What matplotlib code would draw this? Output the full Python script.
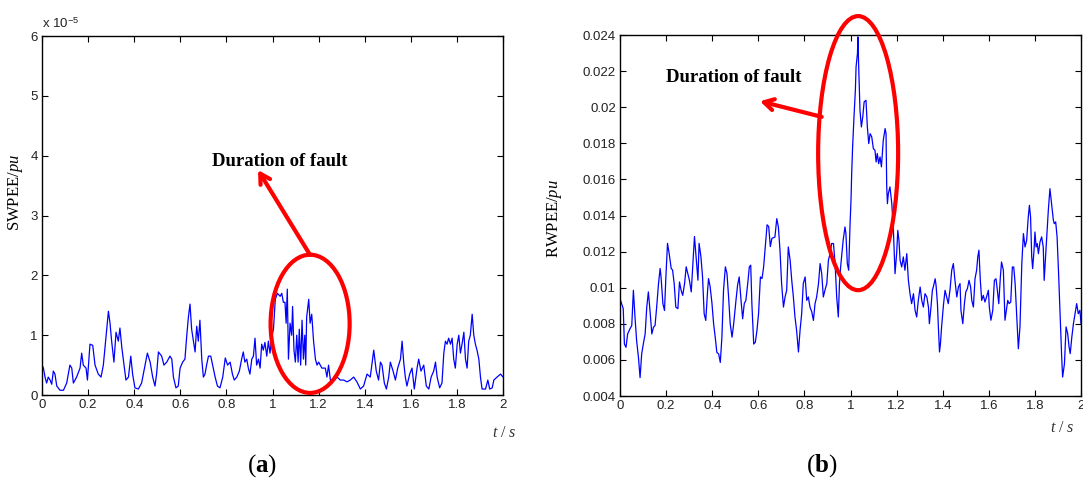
import matplotlib

matplotlib.use("Agg")
import matplotlib.pyplot as plt
from matplotlib.patches import Ellipse
from matplotlib.ticker import FormatStrFormatter

# ---- data ----
# (a) SWPEE, values in units of 1e-5 pu
sw_t = [0.000, 0.006, 0.013, 0.020, 0.027, 0.035, 0.042, 0.049, 0.056, 0.064,
        0.078, 0.093, 0.107, 0.121, 0.129, 0.136, 0.150, 0.165, 0.172, 0.179,
        0.191, 0.197, 0.208, 0.220, 0.230, 0.244, 0.256, 0.266, 0.278, 0.288,
        0.295, 0.302, 0.312, 0.321, 0.331, 0.338, 0.346, 0.356, 0.364, 0.375,
        0.385, 0.393, 0.403, 0.418, 0.432, 0.447, 0.457, 0.469, 0.480, 0.490,
        0.497, 0.505, 0.519, 0.529, 0.541, 0.555, 0.563, 0.570, 0.581, 0.591,
        0.599, 0.610, 0.620, 0.628, 0.635, 0.642, 0.649, 0.657, 0.664, 0.671,
        0.678, 0.685, 0.693, 0.700, 0.707, 0.714, 0.722, 0.732, 0.740, 0.751,
        0.761, 0.772, 0.784, 0.795, 0.805, 0.816, 0.826, 0.834, 0.845, 0.856,
        0.866, 0.873, 0.880, 0.888, 0.895, 0.902, 0.910, 0.917, 0.924, 0.931,
        0.939, 0.946, 0.953, 0.960, 0.967, 0.975, 0.982, 0.989, 0.996, 1.004,
        1.012, 1.021, 1.033, 1.040, 1.047, 1.054, 1.059, 1.064, 1.069, 1.076,
        1.083, 1.087, 1.093, 1.099, 1.105, 1.111, 1.116, 1.122, 1.128, 1.134,
        1.140, 1.144, 1.148, 1.157, 1.163, 1.170, 1.178, 1.186, 1.193, 1.200,
        1.214, 1.229, 1.236, 1.243, 1.251, 1.258, 1.265, 1.280, 1.294, 1.309,
        1.323, 1.337, 1.352, 1.366, 1.381, 1.395, 1.410, 1.424, 1.439, 1.450,
        1.460, 1.468, 1.475, 1.485, 1.494, 1.504, 1.511, 1.523, 1.533, 1.543,
        1.555, 1.562, 1.569, 1.576, 1.583, 1.595, 1.605, 1.615, 1.627, 1.634,
        1.644, 1.656, 1.667, 1.678, 1.688, 1.699, 1.707, 1.714, 1.725, 1.735,
        1.743, 1.750, 1.757, 1.764, 1.772, 1.779, 1.786, 1.793, 1.801, 1.808,
        1.815, 1.822, 1.830, 1.837, 1.844, 1.851, 1.858, 1.866, 1.873, 1.880,
        1.887, 1.895, 1.902, 1.909, 1.924, 1.934, 1.942, 1.953, 1.960, 1.974,
        1.989, 2.000]
sw_v = [0.50, 0.45, 0.30, 0.20, 0.30, 0.25, 0.18, 0.40, 0.35, 0.15,
        0.08, 0.08, 0.20, 0.50, 0.45, 0.20, 0.30, 0.45, 0.70, 0.50,
        0.45, 0.25, 0.85, 0.83, 0.50, 0.35, 0.30, 0.50, 1.00, 1.40,
        1.20, 0.90, 0.55, 1.05, 0.90, 1.12, 0.80, 0.50, 0.25, 0.30,
        0.65, 0.35, 0.12, 0.10, 0.20, 0.50, 0.70, 0.55, 0.30, 0.15,
        0.35, 0.72, 0.65, 0.50, 0.55, 0.65, 0.60, 0.30, 0.12, 0.15,
        0.45, 0.55, 0.60, 1.00, 1.30, 1.52, 1.10, 0.90, 0.72, 1.15,
        0.90, 1.25, 0.60, 0.30, 0.35, 0.50, 0.65, 0.65, 0.50, 0.30,
        0.15, 0.12, 0.30, 0.62, 0.50, 0.55, 0.35, 0.25, 0.30, 0.40,
        0.60, 0.72, 0.55, 0.60, 0.45, 0.35, 0.60, 0.65, 0.95, 0.50,
        0.60, 0.45, 0.85, 0.75, 0.88, 0.65, 0.90, 0.70, 0.95, 1.10,
        1.60, 1.70, 1.65, 1.70, 1.55, 1.55, 1.20, 1.77, 0.60, 1.20,
        1.00, 1.48, 0.75, 0.55, 1.00, 0.55, 1.10, 0.50, 1.25, 0.60,
        1.00, 0.50, 1.30, 1.60, 1.20, 1.35, 0.90, 0.60, 0.50, 0.55,
        0.45, 0.45, 0.30, 0.50, 0.25, 0.20, 0.25, 0.30, 0.25, 0.25,
        0.22, 0.25, 0.30, 0.22, 0.10, 0.15, 0.35, 0.30, 0.75, 0.40,
        0.25, 0.55, 0.50, 0.20, 0.10, 0.30, 0.55, 0.40, 0.25, 0.45,
        0.60, 0.90, 0.55, 0.30, 0.15, 0.35, 0.45, 0.10, 0.45, 0.60,
        0.40, 0.50, 0.15, 0.10, 0.30, 0.40, 0.55, 0.30, 0.12, 0.20,
        0.70, 0.90, 0.85, 0.95, 0.85, 0.95, 0.60, 0.45, 0.85, 1.00,
        0.70, 0.85, 1.05, 0.60, 0.45, 0.90, 1.00, 1.35, 1.00, 0.85,
        0.75, 0.60, 0.30, 0.10, 0.10, 0.25, 0.10, 0.12, 0.25, 0.30,
        0.35, 0.30]

# (b) RWPEE, pu
rw_t = [0.000, 0.007, 0.014, 0.019, 0.026, 0.033, 0.043, 0.051, 0.058, 0.065,
        0.072, 0.080, 0.087, 0.094, 0.101, 0.109, 0.116, 0.123, 0.130, 0.138,
        0.145, 0.152, 0.159, 0.167, 0.174, 0.178, 0.186, 0.193, 0.199, 0.206,
        0.213, 0.222, 0.228, 0.235, 0.242, 0.251, 0.258, 0.265, 0.272, 0.280,
        0.287, 0.294, 0.301, 0.309, 0.316, 0.323, 0.330, 0.338, 0.343, 0.351,
        0.358, 0.365, 0.372, 0.380, 0.384, 0.391, 0.399, 0.406, 0.413, 0.420,
        0.428, 0.435, 0.442, 0.449, 0.457, 0.464, 0.471, 0.478, 0.486, 0.493,
        0.503, 0.510, 0.517, 0.525, 0.532, 0.539, 0.546, 0.554, 0.561, 0.567,
        0.572, 0.580, 0.587, 0.594, 0.601, 0.609, 0.616, 0.623, 0.630, 0.638,
        0.645, 0.652, 0.659, 0.672, 0.680, 0.687, 0.694, 0.701, 0.709, 0.716,
        0.723, 0.730, 0.738, 0.745, 0.752, 0.759, 0.766, 0.774, 0.781, 0.788,
        0.795, 0.803, 0.810, 0.817, 0.824, 0.832, 0.839, 0.846, 0.853, 0.861,
        0.868, 0.875, 0.882, 0.889, 0.897, 0.904, 0.911, 0.918, 0.926, 0.933,
        0.940, 0.947, 0.952, 0.957, 0.964, 0.968, 0.976, 0.980, 0.986, 0.992,
        0.998, 1.002, 1.005, 1.009, 1.015, 1.021, 1.024, 1.030, 1.032, 1.035,
        1.041, 1.047, 1.053, 1.059, 1.067, 1.073, 1.079, 1.085, 1.092, 1.099,
        1.106, 1.111, 1.116, 1.122, 1.128, 1.134, 1.142, 1.150, 1.154, 1.157,
        1.160, 1.164, 1.171, 1.179, 1.186, 1.193, 1.200, 1.205, 1.210, 1.215,
        1.222, 1.229, 1.236, 1.244, 1.251, 1.258, 1.265, 1.273, 1.280, 1.287,
        1.294, 1.302, 1.309, 1.316, 1.323, 1.331, 1.338, 1.342, 1.349, 1.355,
        1.361, 1.367, 1.371, 1.377, 1.381, 1.386, 1.390, 1.395, 1.403, 1.410,
        1.417, 1.424, 1.432, 1.439, 1.446, 1.453, 1.461, 1.468, 1.475, 1.479,
        1.487, 1.494, 1.500, 1.507, 1.514, 1.521, 1.526, 1.533, 1.540, 1.547,
        1.552, 1.557, 1.563, 1.569, 1.576, 1.583, 1.590, 1.598, 1.602, 1.609,
        1.617, 1.624, 1.631, 1.637, 1.643, 1.650, 1.655, 1.663, 1.670, 1.677,
        1.682, 1.688, 1.695, 1.702, 1.708, 1.714, 1.721, 1.728, 1.735, 1.743,
        1.750, 1.757, 1.764, 1.771, 1.776, 1.781, 1.786, 1.790, 1.796, 1.800,
        1.805, 1.810, 1.815, 1.822, 1.829, 1.836, 1.840, 1.847, 1.851, 1.858,
        1.865, 1.872, 1.880, 1.884, 1.890, 1.896, 1.902, 1.909, 1.916, 1.920,
        1.928, 1.935, 1.942, 1.948, 1.953, 1.960, 1.967, 1.974, 1.981, 1.988,
        1.995, 2.000]
rw_v = [0.00939, 0.00912, 0.00884, 0.00688, 0.00670, 0.00744, 0.00772, 0.00791, 0.00986, 0.00837,
        0.00707, 0.00614, 0.00502, 0.00633, 0.00688, 0.00744, 0.00893, 0.00977, 0.00874, 0.00744,
        0.00781, 0.00791, 0.00893, 0.01023, 0.01107, 0.01060, 0.00912, 0.00874, 0.01060, 0.01246,
        0.01191, 0.01107, 0.01098, 0.01023, 0.00893, 0.00884, 0.01032, 0.00986, 0.00958, 0.01023,
        0.01116, 0.01079, 0.01042, 0.00977, 0.01135, 0.01284, 0.01172, 0.01042, 0.01246, 0.01172,
        0.01060, 0.00856, 0.00819, 0.00986, 0.01051, 0.01005, 0.00912, 0.00800, 0.00726, 0.00642,
        0.00633, 0.00586, 0.00726, 0.00986, 0.01116, 0.01079, 0.00949, 0.00800, 0.00726, 0.00800,
        0.00930, 0.01014, 0.01060, 0.00930, 0.00828, 0.00912, 0.00930, 0.01023, 0.01116, 0.01125,
        0.00912, 0.00688, 0.00698, 0.00763, 0.00856, 0.01060, 0.01051, 0.01116, 0.01228, 0.01349,
        0.01339, 0.01228, 0.01274, 0.01281, 0.01383, 0.01337, 0.01208, 0.01023, 0.00893, 0.00949,
        0.00986, 0.01226, 0.01152, 0.01041, 0.00949, 0.00838, 0.00764, 0.00644, 0.00764, 0.00856,
        0.01023, 0.01060, 0.00930, 0.00949, 0.00893, 0.00866, 0.00819, 0.00912, 0.00949, 0.01023,
        0.01134, 0.01078, 0.00949, 0.00986, 0.01023, 0.01152, 0.01189, 0.01245, 0.01245, 0.01134,
        0.00949, 0.00838, 0.01023, 0.01115, 0.01208, 0.01263, 0.01337, 0.01300, 0.01134, 0.01097,
        0.01355, 0.01485, 0.01633, 0.01780, 0.01947, 0.02095, 0.02224, 0.02298, 0.02390, 0.02242,
        0.01984, 0.01891, 0.01947, 0.02030, 0.02039, 0.01891, 0.01799, 0.01854, 0.01836, 0.01771,
        0.01762, 0.01697, 0.01744, 0.01688, 0.01725, 0.01670, 0.01817, 0.01882, 0.01854, 0.01559,
        0.01466, 0.01522, 0.01559, 0.01466, 0.01318, 0.01078, 0.01189, 0.01318, 0.01263, 0.01152,
        0.01115, 0.01171, 0.01097, 0.01189, 0.01041, 0.00967, 0.00912, 0.00967, 0.00875, 0.00838,
        0.00930, 0.01004, 0.00930, 0.00893, 0.00967, 0.00949, 0.00893, 0.00801, 0.00893, 0.00986,
        0.01014, 0.01050, 0.01014, 0.00912, 0.00783, 0.00644, 0.00690, 0.00783, 0.00903, 0.00986,
        0.00949, 0.00912, 0.00995, 0.01097, 0.01134, 0.01041, 0.00949, 0.01004, 0.01023, 0.00875,
        0.00801, 0.00912, 0.00977, 0.00995, 0.01041, 0.01004, 0.00930, 0.00893, 0.01050, 0.01097,
        0.01171, 0.01208, 0.01041, 0.00930, 0.00958, 0.00921, 0.00949, 0.00986, 0.00893, 0.00820,
        0.00875, 0.01041, 0.01050, 0.00986, 0.00912, 0.01060, 0.01143, 0.01097, 0.00820, 0.00884,
        0.00930, 0.00912, 0.00921, 0.01115, 0.01115, 0.01023, 0.00838, 0.00662, 0.00783, 0.01134,
        0.01300, 0.01226, 0.01263, 0.01392, 0.01457, 0.01392, 0.01171, 0.01106, 0.01208, 0.01309,
        0.01226, 0.01245, 0.01189, 0.01254, 0.01282, 0.01226, 0.01041, 0.01189, 0.01282, 0.01429,
        0.01549, 0.01466, 0.01374, 0.01355, 0.01365, 0.01282, 0.01097, 0.00856, 0.00616, 0.00505,
        0.00579, 0.00783, 0.00746, 0.00672, 0.00635, 0.00727, 0.00801, 0.00856, 0.00912, 0.00856,
        0.00875, 0.00801]

x_ticks = [0, 0.2, 0.4, 0.6, 0.8, 1.0, 1.2, 1.4, 1.6, 1.8, 2.0]
sw_yticks = [0, 1, 2, 3, 4, 5, 6]
rw_yticks = [0.004, 0.006, 0.008, 0.010, 0.012, 0.014, 0.016, 0.018, 0.020, 0.022, 0.024]

plt.rcParams["mathtext.fontset"] = "custom"
plt.rcParams["mathtext.rm"] = "Liberation Serif"
plt.rcParams["mathtext.it"] = "Liberation Serif:italic"
plt.rcParams["mathtext.bf"] = "Liberation Serif:bold"

SERIF = "Liberation Serif"
SANS = "Liberation Sans"
ARROW = "->,head_length=0.7,head_width=0.4"

fig = plt.figure(figsize=(10.83, 4.78), dpi=100)
ax1 = fig.add_axes([0.0388, 0.1736, 0.4257, 0.751])
ax2 = fig.add_axes([0.5725, 0.1715, 0.4257, 0.755])


def style_axes(ax):
    ax.set_xlim(0, 2)
    ax.set_xticks(x_ticks)
    ax.xaxis.set_major_formatter(FormatStrFormatter("%g"))
    ax.yaxis.set_major_formatter(FormatStrFormatter("%g"))
    ax.tick_params(direction="in", length=4, width=0.8, top=True, right=True,
                   labelsize=9.5, labelcolor="#222222", pad=3)
    for lab in ax.get_xticklabels() + ax.get_yticklabels():
        lab.set_family(SANS)
    for sp in ax.spines.values():
        sp.set_linewidth(1.0)


# ---- (a) ----
ax1.plot(sw_t, sw_v, color="#0000ff", lw=0.9)
ax1.set_ylim(0, 6)
ax1.set_yticks(sw_yticks)
style_axes(ax1)
ax1.text(0.0, 1.015, r"x 10$^{\mathregular{-5}}$", transform=ax1.transAxes,
         fontsize=9.5, family=SANS, color="#222222", va="bottom")
ax1.set_ylabel(r"SWPEE/$\it{pu}$", family=SERIF, fontsize=12)
ax1.yaxis.set_label_coords(-0.038, 0.565)
ax1.add_patch(Ellipse((1.163, 1.19), 0.343, 2.31, fill=False, ec="#ff0000",
                      lw=3, clip_on=False, zorder=5))
ax1.annotate("", xy=(0.937, 3.76), xytext=(1.163, 2.34),
             arrowprops=dict(arrowstyle=ARROW, color="#ff0000", lw=3,
                             shrinkA=0, shrinkB=0))
ax1.text(0.738, 3.91, "Duration of fault", family=SERIF, fontweight="bold",
         fontsize=13.5, va="center", ha="left")
fig.text(517 / 1083, 1 - 433 / 478, r"$\it{t}$ / $\it{s}$", fontsize=11.5,
         family=SERIF, ha="right", va="center", color="#333333")
fig.text(262 / 1083, 1 - 466 / 478, r"($\mathbf{a}$)", fontsize=18,
         family=SERIF, ha="center", va="center")

# ---- (b) ----
ax2.plot(rw_t, rw_v, color="#0000ff", lw=0.9)
ax2.set_ylim(0.004, 0.024)
ax2.set_yticks(rw_yticks)
style_axes(ax2)
ax2.set_ylabel(r"RWPEE/$\it{pu}$", family=SERIF, fontsize=12)
ax2.yaxis.set_label_coords(-0.122, 0.493)
ax2.add_patch(Ellipse((1.033, 0.01746), 0.347, 0.01519, fill=False, ec="#ff0000",
                      lw=3, clip_on=False, zorder=5))
ax2.annotate("", xy=(0.607, 0.02034), xytext=(0.875, 0.01947),
             arrowprops=dict(arrowstyle=ARROW, color="#ff0000", lw=3,
                             shrinkA=0, shrinkB=0))
ax2.text(0.2, 0.02167, "Duration of fault", family=SERIF, fontweight="bold",
         fontsize=13.5, va="center", ha="left")
fig.text(1075 / 1083, 1 - 428 / 478, r"$\it{t}$ / $\it{s}$", fontsize=11.5,
         family=SERIF, ha="right", va="center", color="#333333")
fig.text(822 / 1083, 1 - 466 / 478, r"($\mathbf{b}$)", fontsize=18,
         family=SERIF, ha="center", va="center")

plt.savefig("out.png", dpi=100)
